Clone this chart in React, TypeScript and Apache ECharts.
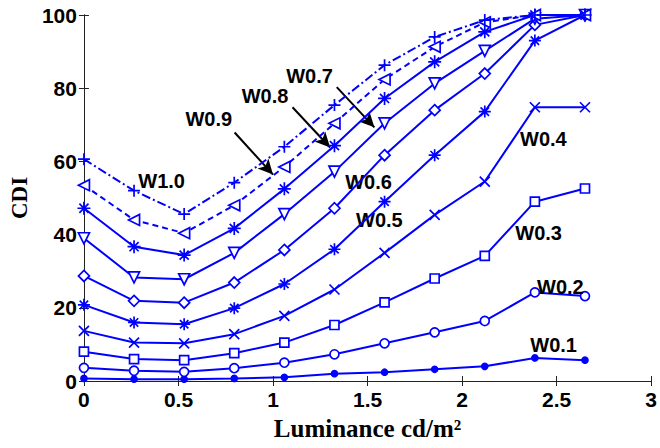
import React, { useEffect, useRef } from "react";
import * as echarts from "echarts";

const xValues = [0, 0.265, 0.53, 0.795, 1.06, 1.325, 1.59, 1.855, 2.12, 2.385, 2.65];

const w01 = [0.7, 0.5, 0.5, 0.7, 1.0, 2.0, 2.4, 3.2, 4.0, 6.3, 5.7];
const w02 = [3.6, 2.8, 2.5, 3.5, 5.0, 7.3, 10.3, 13.3, 16.4, 24.2, 23.2];
const w03 = [8.0, 6.0, 5.7, 7.6, 10.5, 15.3, 21.5, 28.0, 34.2, 49.0, 52.6];
const w04 = [13.7, 10.5, 10.3, 12.8, 17.8, 25.0, 35.0, 45.4, 54.5, 74.8, 74.8];
const w05 = [20.8, 16.0, 15.5, 19.9, 26.5, 36.0, 49.0, 61.7, 73.6, 93.0, 100];
const w06 = [28.7, 21.9, 21.4, 26.9, 35.8, 47.2, 61.7, 74.0, 84.0, 97.3, 100];
const w07 = [39.0, 28.3, 27.8, 35.0, 45.6, 57.2, 70.4, 81.3, 90.2, 99.0, 100];
const w08 = [47.2, 36.7, 34.4, 41.7, 52.5, 64.3, 77.2, 87.2, 95.4, 100, 100];
const w09 = [53.5, 44.0, 40.4, 48.0, 58.5, 70.4, 82.4, 91.3, 98.0, 100, 100];
const w10 = [60.6, 52.0, 45.6, 54.2, 64.0, 75.4, 86.3, 94.0, 98.6, 100, 100];

const seriesNames = ["W0.1", "W0.2", "W0.3", "W0.4", "W0.5", "W0.6", "W0.7", "W0.8", "W0.9", "W1.0"];
const seriesValues = [w01, w02, w03, w04, w05, w06, w07, w08, w09, w10];

// label anchor positions in data units [x, y]
const labelNames = ["W1.0", "W0.9", "W0.8", "W0.7", "W0.6", "W0.5", "W0.4", "W0.3", "W0.2", "W0.1"];
const labelX = [0.411, 0.66, 0.958, 1.193, 1.505, 1.5625, 2.43, 2.405, 2.52, 2.484];
const labelY = [54.6, 71.5, 77.9, 83.3, 54.5, 43.9, 66.0, 40.5, 25.8, 9.9];

// arrows: start and end in data units
const arrowStartX = [0.797, 1.103, 1.337];
const arrowStartY = [67.9, 74.8, 80.3];
const arrowEndX = [1.0, 1.302, 1.536];
const arrowEndY = [56.4, 63.8, 69.3];

const xTicks = { min: 0, max: 3, interval: 0.5 };
const yTicks = { min: 0, max: 100, interval: 20 };

const BLUE = "#0000ff";

const PLUS = "path://M0,5 L10,5 M5,0 L5,10";
const CROSS = "path://M0,0 L10,10 M0,10 L10,0";
const STAR = "path://M5,0 L5,10 M0,5 L10,5 M1.5,1.5 L8.5,8.5 M1.5,8.5 L8.5,1.5";
const TRI_DOWN = "path://M0,0 L10,0 L5,9 Z";
const TRI_LEFT = "path://M9,0 L9,10 L0,5 Z";

const markerSpec: { symbol: string; size: number; fill: string }[] = [
  { symbol: "circle", size: 6, fill: BLUE },
  { symbol: "circle", size: 9, fill: "#fff" },
  { symbol: "rect", size: 9, fill: "#fff" },
  { symbol: CROSS, size: 10, fill: "#fff" },
  { symbol: STAR, size: 12, fill: "#fff" },
  { symbol: "diamond", size: 11, fill: "#fff" },
  { symbol: TRI_DOWN, size: 11, fill: "#fff" },
  { symbol: STAR, size: 13, fill: "#fff" },
  { symbol: TRI_LEFT, size: 11, fill: "#fff" },
  { symbol: PLUS, size: 12, fill: "#fff" },
];

const lineTypes: any[] = ["solid", "solid", "solid", "solid", "solid", "solid", "solid", "solid", [6, 4], [9, 3, 2, 3]];

export default function App() {
  const ref = useRef<HTMLDivElement>(null);
  useEffect(() => {
    if (!ref.current) return;
    const chart = echarts.init(ref.current, undefined, { renderer: "svg" });
    const tickFont = {
      fontFamily: "Liberation Sans",
      fontWeight: "bold" as const,
      fontSize: 21,
      color: "#000",
    };
    const series: any[] = seriesValues.map((vals, i) => ({
      name: seriesNames[i],
      type: "line",
      data: vals.map((v, j) => [xValues[j], v]),
      symbol: markerSpec[i].symbol,
      symbolSize: markerSpec[i].size,
      showAllSymbol: true,
      lineStyle: { color: BLUE, width: 2, type: lineTypes[i] },
      itemStyle: { color: markerSpec[i].fill, borderColor: BLUE, borderWidth: 1.7 },
      z: 2 + i,
    }));
    series[0].markPoint = {
      silent: true,
      symbol: "circle",
      symbolSize: 1,
      itemStyle: { color: "rgba(0,0,0,0)" },
      label: {
        show: true,
        position: "inside",
        formatter: "{b}",
        fontFamily: "Liberation Sans",
        fontWeight: "bold",
        fontSize: 20,
        color: "#000",
      },
      data: labelNames.map((n, i) => ({ name: n, coord: [labelX[i], labelY[i]] })),
    };
    series[0].markLine = {
      silent: true,
      animation: false,
      label: { show: false },
      lineStyle: { color: "#000", width: 2, type: "solid" },
      data: arrowStartX.map((_, i) => [
        { coord: [arrowStartX[i], arrowStartY[i]], symbol: "none" },
        { coord: [arrowEndX[i], arrowEndY[i]], symbol: "arrow", symbolSize: [11, 15] },
      ]),
    };
    chart.setOption({
      animation: false,
      backgroundColor: "#fff",
      grid: { left: 80, right: 4, top: 15, bottom: 67 },
      xAxis: [
        {
          type: "value",
          ...xTicks,
          name: "Luminance cd/m²",
          nameLocation: "middle",
          nameGap: 35,
          nameTextStyle: {
            fontFamily: "Liberation Serif",
            fontWeight: "bold",
            fontSize: 25,
            color: "#000",
          },
          axisLine: { show: true, lineStyle: { color: "#222", width: 1 } },
          axisTick: { show: true, inside: true, length: 5, lineStyle: { color: "#222" } },
          splitLine: { show: false },
          axisLabel: { ...tickFont, margin: 8 },
        },
        {
          type: "value",
          position: "top",
          ...xTicks,
          axisLine: { show: true, lineStyle: { color: "#222", width: 1 } },
          axisTick: { show: true, inside: true, length: 5, lineStyle: { color: "#222" } },
          splitLine: { show: false },
          axisLabel: { show: false },
        },
      ],
      yAxis: [
        {
          type: "value",
          ...yTicks,
          name: "CDI",
          nameLocation: "middle",
          nameRotate: 90,
          nameGap: 45,
          nameTextStyle: {
            fontFamily: "Liberation Serif",
            fontWeight: "bold",
            fontSize: 23,
            color: "#000",
          },
          axisLine: { show: true, lineStyle: { color: "#222", width: 1 } },
          axisTick: { show: true, inside: true, length: 5, lineStyle: { color: "#222" } },
          splitLine: { show: false },
          axisLabel: { ...tickFont, margin: 7 },
        },
        {
          type: "value",
          position: "right",
          ...yTicks,
          axisLine: { show: true, lineStyle: { color: "#222", width: 1 } },
          axisTick: { show: true, inside: true, length: 5, lineStyle: { color: "#222" } },
          splitLine: { show: false },
          axisLabel: { show: false },
        },
      ],
      series,
    });
    return () => chart.dispose();
  }, []);
  return (
    <div
      ref={ref}
      style={{ position: "fixed", left: 0, top: 0, width: 660, height: 448, background: "#fff" }}
    />
  );
}
